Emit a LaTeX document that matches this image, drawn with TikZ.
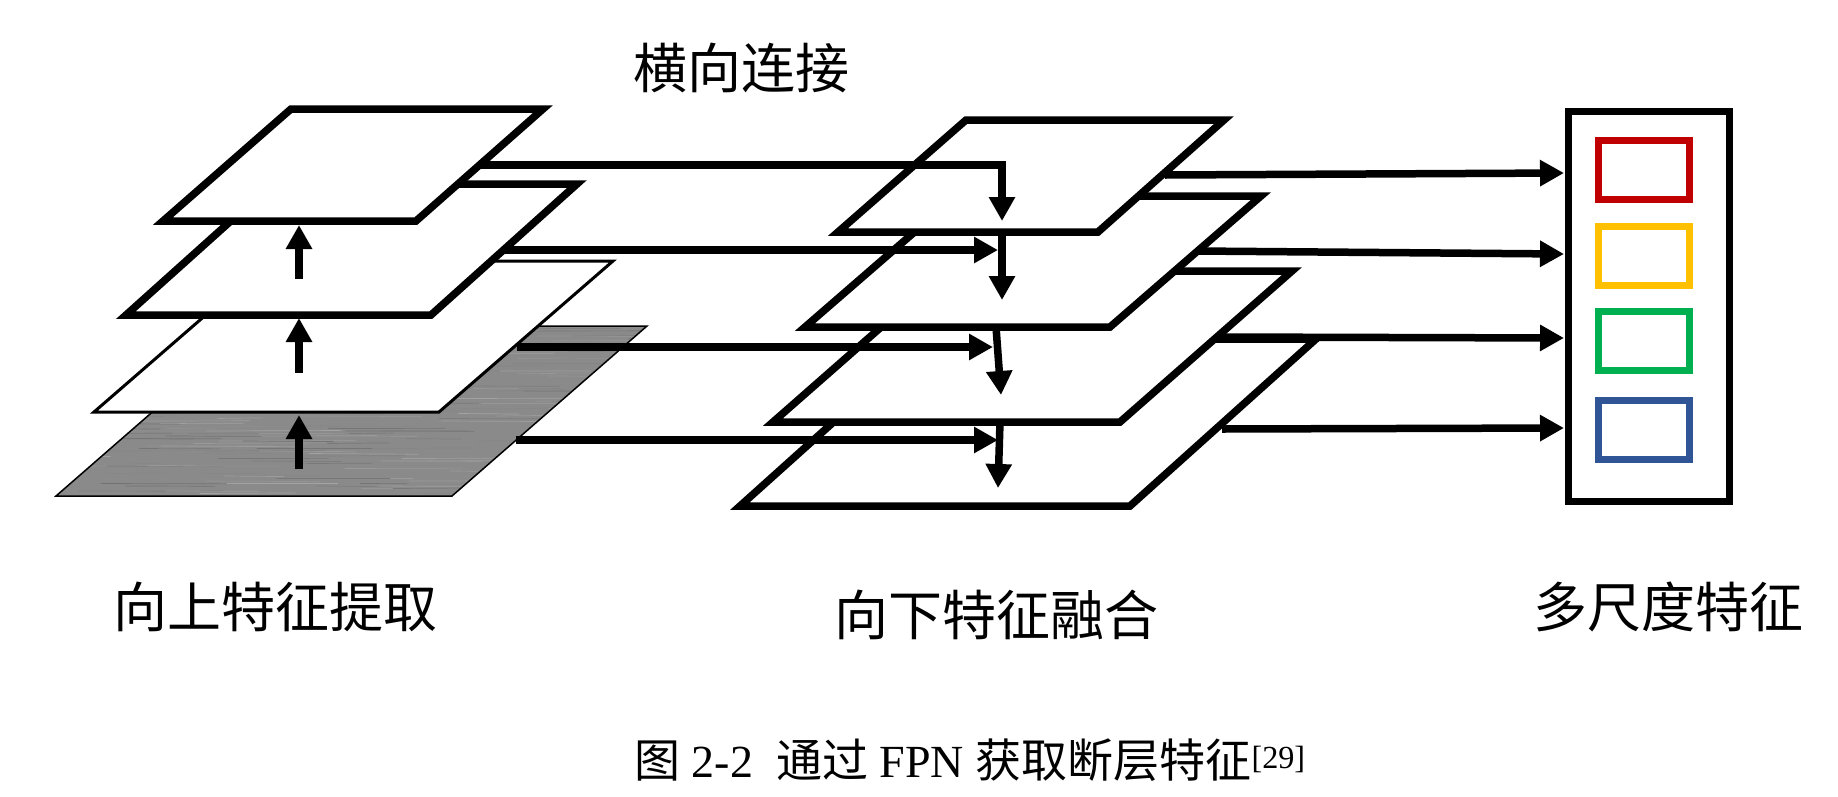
\documentclass[tikz,border=0pt]{standalone}
\usepackage{fontspec}
\setmainfont{Liberation Serif}
\newfontfamily\cjk{Noto Sans CJK SC}
\usetikzlibrary{arrows.meta}
\definecolor{cred}{HTML}{C00000}
\definecolor{cyellow}{HTML}{FFC000}
\definecolor{cgreen}{HTML}{00B050}
\definecolor{cblue}{HTML}{2F5597}
\begin{document}
\begin{tikzpicture}[x=1pt,y=-1pt,
  layer/.style={draw=black,fill=white,line width=7.5pt,line join=miter},
  thinlayer/.style={draw=black,fill=white,line width=3pt,line join=miter},
  conn/.style={line width=7.5pt,line join=miter},
  arr/.style={conn,-{Triangle[width=25pt,length=24pt]}},
  lbl/.style={font=\cjk\fontsize{54}{60}\selectfont,inner sep=0pt,anchor=center},
  cbox/.style={line width=7pt,fill=white}]
\useasboundingbox (0,0) rectangle (1838,796);
\fill[white] (0,0) rectangle (1838,796);

% ---------- left pyramid ----------
\path[fill=black!46] (251,326) -- (647,326) -- (452,496) -- (56,496) -- cycle;
\begin{scope}
\clip (251,326) -- (647,326) -- (452,496) -- (56,496) -- cycle;
\pgfmathsetseed{3}
\foreach \r in {0,...,70}{
  \foreach \k in {1,...,4}{
    \pgfmathsetmacro\xs{40+620*rnd}
    \pgfmathsetmacro\len{30+110*rnd}
    \pgfmathtruncatemacro\sh{36+20*rnd}
    \draw[line width=0.7pt,black!\sh] (\xs,{326+2.5*\r}) -- ++(\len,{1.5*rnd-0.75});
  }
}
\end{scope}
\draw[line width=1.5pt] (251,326) -- (647,326) -- (452,496) -- (56,496) -- cycle;
\draw[thinlayer] (268,261) -- (613,261) -- (439,412) -- (94,412) -- cycle;
\draw[layer] (272,184) -- (577,184) -- (431,315) -- (126,315) -- cycle;
\draw[layer] (291,109) -- (543,109) -- (416,221) -- (163,221) -- cycle;

% ---------- right pyramid ----------
\draw[layer] (926,339) -- (1316,339) -- (1130,506) -- (740,506) -- cycle;
\draw[layer] (945,271) -- (1292,271) -- (1120,422) -- (773,422) -- cycle;
\draw[layer] (956,196) -- (1261,196) -- (1110,327) -- (805,327) -- cycle;
\draw[layer] (966,120) -- (1224,120) -- (1098,232) -- (838,232) -- cycle;

% ---------- output box ----------
\draw[line width=7pt] (1568.5,111.5) rectangle (1729.5,501.5);
\draw[cbox,draw=cred]    (1598.5,140.5) rectangle (1689.5,199.5);
\draw[cbox,draw=cyellow] (1598.5,226.5) rectangle (1689.5,285.5);
\draw[cbox,draw=cgreen]  (1598.5,311.5) rectangle (1689.5,370.5);
\draw[cbox,draw=cblue]   (1598.5,400.5) rectangle (1689.5,459.5);

% ---------- coordinates ----------
\coordinate (u1s) at (299,279); \coordinate (u1e) at (299,225);
\coordinate (u2s) at (299,373); \coordinate (u2e) at (299,318);
\coordinate (u3s) at (299,469); \coordinate (u3e) at (299,415);

\coordinate (h1s) at (480,165); \coordinate (h1c) at (1002,165); \coordinate (h1e) at (1002,221);
\coordinate (h2s) at (503,250); \coordinate (h2e) at (998,250);
\coordinate (h3s) at (517,347); \coordinate (h3e) at (993,347);
\coordinate (h4s) at (516,440); \coordinate (h4e) at (998,440);

\coordinate (d1s) at (1002,233); \coordinate (d1e) at (1002,300);
\coordinate (d2s) at (996,327);  \coordinate (d2e) at (1001,395);
\coordinate (d3s) at (1000,422); \coordinate (d3e) at (998,488);

\coordinate (o1s) at (1165,175); \coordinate (o1e) at (1564,173);
\coordinate (o2s) at (1196,251); \coordinate (o2e) at (1564,254);
\coordinate (o3s) at (1220,337); \coordinate (o3e) at (1564,338);
\coordinate (o4s) at (1222,429); \coordinate (o4e) at (1564,428);

% ---------- connectors ----------
\draw[arr] (u1s) -- (u1e);
\draw[arr] (u2s) -- (u2e);
\draw[arr] (u3s) -- (u3e);

\draw[arr] (h1s) -- (h1c) -- (h1e);
\draw[arr] (h2s) -- (h2e);
\draw[arr] (h3s) -- (h3e);
\draw[arr] (h4s) -- (h4e);

\draw[arr] (d1s) -- (d1e);
\draw[arr] (d2s) -- (d2e);
\draw[arr] (d3s) -- (d3e);

\draw[arr] (o1s) -- (o1e);
\draw[arr] (o2s) -- (o2e);
\draw[arr] (o3s) -- (o3e);
\draw[arr] (o4s) -- (o4e);

% ---------- labels ----------
\node[lbl] (t1) at (741,68) {横向连接};
\node[lbl] (t2) at (275,607) {向上特征提取};
\node[lbl] (t3) at (996,615) {向下特征融合};
\node[lbl] (t4) at (1668,607) {多尺度特征};
\node[font=\fontsize{46}{50}\selectfont,inner sep=0pt] (cap) at (970,760)
  {{\cjk 图}\ 2-2\ \ {\cjk 通过}\ FPN\ {\cjk 获取断层特征}\textsuperscript{[29]}};
\end{tikzpicture}
\end{document}
